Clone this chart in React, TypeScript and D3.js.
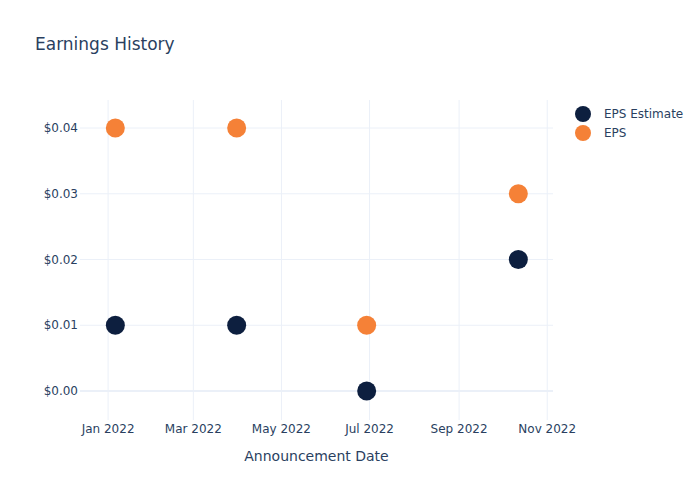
import React from "react";
import * as d3 from "d3";

const dates = ["2022-01-06", "2022-03-31", "2022-06-29", "2022-10-12"];
const epsEstimate = [0.01, 0.01, 0.0, 0.02];
const epsActual = [0.04, 0.04, 0.01, 0.03];
const yTicks = [0, 0.01, 0.02, 0.03, 0.04];
const xTickDates = ["2022-01-01", "2022-03-01", "2022-05-01", "2022-07-01", "2022-09-01", "2022-11-01"];
const seriesNames = ["EPS Estimate", "EPS"];
const seriesColors = ["#0d1f3f", "#f58137"];

const W = 700, H = 500;
const L = 80, R = 553, T = 100, B = 420;
const font = "'DejaVu Sans', verdana, sans-serif";
const textColor = "#2a3f5f";
const grid = "#ebf0f8";

export default function App() {
  const parse = d3.utcParse("%Y-%m-%d");
  const x = d3
    .scaleUtc()
    .domain([new Date(Date.UTC(2021, 11, 12, 13)), new Date(Date.UTC(2022, 10, 5, 0))])
    .range([L, R]);
  const y = d3.scaleLinear().domain([-0.00441, 0.04426]).range([B, T]);
  const fmtX = d3.utcFormat("%b %Y");
  const fmtY = (v: number) => "$" + v.toFixed(2);
  const series = [epsEstimate, epsActual];

  return (
    <svg width={W} height={H} style={{ position: "absolute", left: 0, top: 0, background: "#fff" }}>
      <rect x={0} y={0} width={W} height={H} fill="#fff" />
      {xTickDates.map((d) => {
        const xv = x(parse(d)!);
        return <line key={d} x1={xv} x2={xv} y1={T} y2={B} stroke={grid} strokeWidth={1} />;
      })}
      {yTicks.map((t) => (
        <line key={t} x1={L} x2={R} y1={y(t)} y2={y(t)} stroke={grid} strokeWidth={t === 0 ? 2 : 1} />
      ))}
      {yTicks.map((t) => (
        <text key={"yl" + t} x={L - 2} y={y(t)} dy="0.35em" textAnchor="end" fontFamily={font} fontSize={12} fill={textColor}>
          {fmtY(t)}
        </text>
      ))}
      {xTickDates.map((d) => {
        const xv = x(parse(d)!);
        return (
          <text key={"xl" + d} x={xv} y={B + 13} textAnchor="middle" fontFamily={font} fontSize={12} fill={textColor}>
            {fmtX(parse(d)!)}
          </text>
        );
      })}
      {series.map((vals, si) =>
        vals.map((v, i) => (
          <circle key={si + "-" + i} cx={x(parse(dates[i])!)} cy={y(v)} r={9.5} fill={seriesColors[si]} />
        ))
      )}
      <text x={35} y={50} fontFamily={font} fontSize={17} fill={textColor}>
        Earnings History
      </text>
      <text x={(L + R) / 2} y={461} textAnchor="middle" fontFamily={font} fontSize={14} fill={textColor}>
        Announcement Date
      </text>
      {seriesNames.map((n, i) => (
        <g key={n} transform={`translate(583, ${114 + i * 19})`}>
          <circle cx={0} cy={0} r={8} fill={seriesColors[i]} />
          <text x={21} y={0} dy="0.35em" fontFamily={font} fontSize={12} fill={textColor}>
            {n}
          </text>
        </g>
      ))}
    </svg>
  );
}
